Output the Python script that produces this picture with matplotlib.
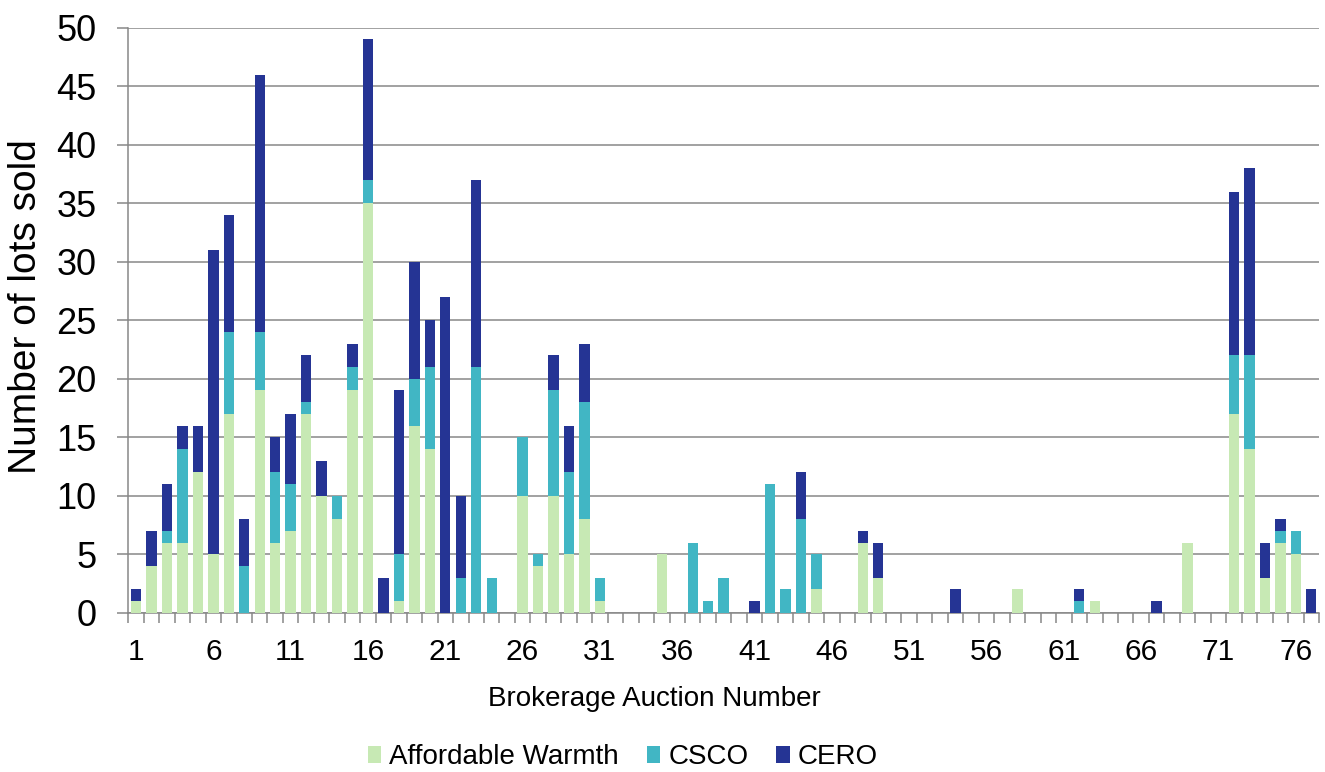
import matplotlib
matplotlib.use("Agg")
import matplotlib.pyplot as plt
from matplotlib.patches import Patch
import numpy as np

plt.rcParams['font.family'] = ['Liberation Sans', 'DejaVu Sans']

auctions = list(range(1, 78))
tick_labels = ['1', '6', '11', '16', '21', '26', '31', '36', '41', '46', '51',
               '56', '61', '66', '71', '76']
series_names = ['Affordable Warmth', 'CSCO', 'CERO']

affordable_warmth = [1, 4, 6, 6, 12, 5, 17, 0, 19, 6,
                     7, 17, 10, 8, 19, 35, 0, 1, 16, 14,
                     0, 0, 0, 0, 0, 10, 4, 10, 5, 8,
                     1, 0, 0, 0, 5, 0, 0, 0, 0, 0,
                     0, 0, 0, 0, 2, 0, 0, 6, 3, 0,
                     0, 0, 0, 0, 0, 0, 0, 2, 0, 0,
                     0, 0, 1, 0, 0, 0, 0, 0, 6, 0,
                     0, 17, 14, 3, 6, 5, 0]
csco = [0, 0, 1, 8, 0, 0, 7, 4, 5, 6,
        4, 1, 0, 2, 2, 2, 0, 4, 4, 7,
        0, 3, 21, 3, 0, 5, 1, 9, 7, 10,
        2, 0, 0, 0, 0, 0, 6, 1, 3, 0,
        0, 11, 2, 8, 3, 0, 0, 0, 0, 0,
        0, 0, 0, 0, 0, 0, 0, 0, 0, 0,
        0, 1, 0, 0, 0, 0, 0, 0, 0, 0,
        0, 5, 8, 0, 1, 2, 0]
cero = [1, 3, 4, 2, 4, 26, 10, 4, 22, 3,
        6, 4, 3, 0, 2, 12, 3, 14, 10, 4,
        27, 7, 16, 0, 0, 0, 0, 3, 4, 5,
        0, 0, 0, 0, 0, 0, 0, 0, 0, 0,
        1, 0, 0, 4, 0, 0, 0, 1, 3, 0,
        0, 0, 0, 2, 0, 0, 0, 0, 0, 0,
        0, 1, 0, 0, 0, 0, 1, 0, 0, 0,
        0, 14, 16, 3, 1, 0, 2]

colors = ['#c7e9b4', '#41b6c4', '#253494']
grid_col = '#878787'

W, H = 1325, 772
fig = plt.figure(figsize=(W / 100, H / 100), dpi=100)
ax = fig.add_axes([128.3 / W, 1 - 612.7 / H, (1319 - 128.3) / W, (612.7 - 27.7) / H])

x = np.array(auctions)
aw = np.array(affordable_warmth)
cs = np.array(csco)
ce = np.array(cero)
bw = 0.67
ax.bar(x, aw, width=bw, color=colors[0], zorder=3)
ax.bar(x, cs, width=bw, bottom=aw, color=colors[1], zorder=3)
ax.bar(x, ce, width=bw, bottom=aw + cs, color=colors[2], zorder=3)

ax.set_xlim(0.5, 77.5)
ax.set_ylim(0, 50)
ax.set_yticks(np.arange(0, 51, 5))
ax.set_yticklabels([str(v) for v in range(0, 51, 5)], fontsize=26)
ax.yaxis.grid(True, color=grid_col, linewidth=1.1, zorder=0)
ax.set_axisbelow(True)

ax.set_xticks([int(t) for t in tick_labels])
ax.set_xticklabels(tick_labels, fontsize=21.5)
ax.set_xticks(np.arange(0.5, 78, 1), minor=True)
ax.tick_params(axis='x', which='major', length=0, pad=18.5)
ax.tick_params(axis='x', which='minor', length=7.2, width=1.1, color=grid_col, direction='out')
ax.tick_params(axis='y', which='major', length=7.9, width=1.1, color=grid_col, pad=15)

for s in ['top', 'right']:
    ax.spines[s].set_visible(False)
for s in ['left', 'bottom']:
    ax.spines[s].set_color(grid_col)
    ax.spines[s].set_linewidth(1.1)

fig.text(26 / W, 1 - 306.5 / H, 'Number of lots sold', rotation=90,
         ha='center', va='center', fontsize=28)
fig.text(654 / W, 1 - 706 / H, 'Brokerage Auction Number', ha='center',
         va='baseline', fontsize=20)

handles = [Patch(facecolor=c, edgecolor='none') for c in colors]
fig.legend(handles, series_names, loc='center', ncol=3,
           bbox_to_anchor=(623 / W, 1 - 757 / H), frameon=False,
           fontsize=20, handlelength=0.48, handleheight=0.55,
           handletextpad=0.3, columnspacing=1.0, borderpad=0, borderaxespad=0)

fig.savefig('out.png', dpi=100)
